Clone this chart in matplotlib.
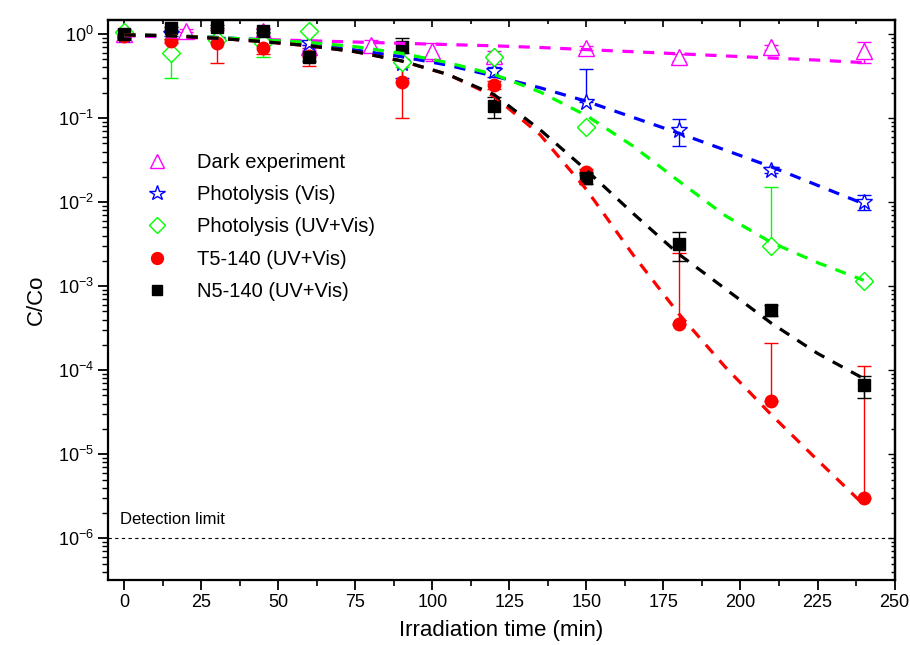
import numpy as np
import matplotlib.pyplot as plt
from matplotlib.lines import Line2D

plt.rcParams['font.family'] = ['Liberation Sans', 'DejaVu Sans']
plt.rcParams['mathtext.fontset'] = 'custom'
plt.rcParams['mathtext.rm'] = 'Liberation Sans'
plt.rcParams['mathtext.it'] = 'Liberation Sans'

# measured points (time in min, C/Co, error)
dark_t = [0, 20, 45, 60, 80, 100, 120, 150, 180, 210, 240]
dark_c = [1.0, 1.1, 1.1, 0.70, 0.74, 0.63, 0.55, 0.68, 0.53, 0.70, 0.63]
dark_e = [0.08, 0.05, 0.08, 0.05, 0.1, 0.15, 0.08, 0.04, 0.05, 0.05, 0.18]

vis_t = [0, 15, 30, 45, 60, 90, 120, 150, 180, 210, 240]
vis_c = [0.97, 1.0, 0.85, 0.80, 0.78, 0.45, 0.36, 0.155, 0.072, 0.024, 0.010]
vis_e = [0.07, 0.06, 0.05, 0.05, 0.04, 0.15, 0.05, 0.23, 0.025, 0.002, 0.002]

uv_t = [0, 15, 30, 45, 60, 90, 120, 150, 210, 240]
uv_c = [1.05, 0.59, 0.85, 0.78, 1.1, 0.46, 0.53, 0.078, 0.0030, 0.00115]
uv_e = [0.1, 0.29, 0.05, 0.25, 0.05, 0.05, 0.05, 0.005, 0.012, 0.0001]

t5_t = [0, 15, 30, 45, 60, 90, 120, 150, 180, 210, 240]
t5_c = [0.95, 0.83, 0.78, 0.68, 0.55, 0.27, 0.25, 0.0228, 3.5e-4, 4.3e-5, 3.0e-6]
t5_e = [0.05, 0.05, 0.33, 0.1, 0.13, 0.17, 0.03, 0.002, 0.00215, 1.7e-4, 1.1e-4]

n5_t = [0, 15, 30, 45, 60, 90, 120, 150, 180, 210, 240]
n5_c = [1.0, 1.18, 1.22, 1.1, 0.53, 0.70, 0.139, 0.0193, 0.0032, 5.2e-4, 6.6e-5]
n5_e = [0.05, 0.05, 0.05, 0.05, 0.05, 0.2, 0.04, 0.003, 0.0012, 8e-5, 1.9e-5]

# fitted curves (log10 C/Co)
fit_t = [0, 15, 30, 45, 60, 75, 90, 105, 120, 135, 150, 165, 180, 195, 210, 225, 240]
fit_dark = [-0.02, -0.035, -0.05, -0.065, -0.08, -0.095, -0.11, -0.125, -0.14, -0.16, -0.185, -0.21, -0.235, -0.26, -0.285, -0.31, -0.34]
fit_vis = [-0.01, -0.02, -0.04, -0.07, -0.12, -0.19, -0.27, -0.37, -0.50, -0.64, -0.80, -0.99, -1.18, -1.38, -1.58, -1.80, -2.02]
fit_uv = [-0.01, -0.02, -0.04, -0.07, -0.10, -0.15, -0.23, -0.34, -0.48, -0.69, -0.97, -1.33, -1.75, -2.16, -2.48, -2.72, -2.93]
fit_t5 = [-0.01, -0.02, -0.05, -0.09, -0.14, -0.21, -0.32, -0.48, -0.74, -1.20, -1.85, -2.62, -3.33, -3.96, -4.53, -5.07, -5.60]
fit_n5 = [-0.01, -0.02, -0.05, -0.09, -0.14, -0.21, -0.32, -0.48, -0.72, -1.14, -1.62, -2.13, -2.62, -3.03, -3.44, -3.80, -4.10]

labels = ['Dark experiment', 'Photolysis (Vis)', 'Photolysis (UV+Vis)',
          'T5-140 (UV+Vis)', 'N5-140 (UV+Vis)']
colors = ['#ff00ff', '#0000ff', '#00ff00', '#ff0000', '#000000']
markers = ['^', '*', 'D', 'o', 's']
msizes = [11, 12, 9, 9, 8]
filled = [False, False, False, True, True]

series = [(dark_t, dark_c, dark_e, fit_dark),
          (vis_t, vis_c, vis_e, fit_vis),
          (uv_t, uv_c, uv_e, fit_uv),
          (t5_t, t5_c, t5_e, fit_t5),
          (n5_t, n5_c, n5_e, fit_n5)]

fig = plt.figure(figsize=(9.1, 6.45), dpi=100)
ax = fig.add_axes([0.119, 0.101, 0.864, 0.868])

handles = []
for (t, c, e, f), col, m, ms, fl, lab in zip(series, colors, markers, msizes, filled, labels):
    c = np.array(c)
    e = np.array(e)
    lower = np.where(e >= c, 0, e)
    fc = col if fl else 'white'
    ax.errorbar(t, c, yerr=[lower, e], fmt=m, color=col, ms=ms, mfc=fc,
                mec=col, mew=1.0, ecolor=col, elinewidth=1, capsize=5,
                capthick=1, zorder=3)
    handles.append(Line2D([], [], ls='none', marker=m, color=col, ms=ms * 0.95,
                          mfc=fc, mec=col, mew=1.0, label=lab))

for (t, c, e, f), col in zip(series, colors):
    ax.plot(fit_t, 10 ** np.array(f), color=col, lw=2.3,
            linestyle=(0, (3.5, 3)), zorder=4)

# detection limit
ax.axhline(1e-6, color='black', lw=0.8, linestyle=(0, (3, 3)), zorder=1)
ax.text(-1.5, 1.35e-6, 'Detection limit', fontsize=12, va='bottom', ha='left')

ax.set_yscale('log')
ax.set_ylim(3.2e-7, 1.47)
ax.set_xlim(-5.2, 250)
ax.set_xticks(np.arange(0, 251, 25))
ax.set_xticks(np.arange(12.5, 250, 25), minor=True)

ax.tick_params(axis='both', which='major', labelsize=13, width=1.3)
ax.tick_params(axis='x', which='major', direction='out', length=7)
ax.tick_params(axis='x', which='minor', direction='out', length=4, width=1.2)
ax.tick_params(axis='y', which='major', direction='out', length=7)
ax.tick_params(axis='y', which='minor', direction='out', length=4, width=1.0)

# inward ticks on the top and right frame
sec_x = ax.secondary_xaxis('top')
sec_x.set_xticks(np.arange(0, 251, 25))
sec_x.set_xticks(np.arange(12.5, 250, 25), minor=True)
sec_x.tick_params(which='both', direction='in', labeltop=False, width=1.2)
sec_x.tick_params(which='major', length=5)
sec_x.tick_params(which='minor', length=3)
sec_y = ax.secondary_yaxis('right')
sec_y.tick_params(which='both', direction='in', labelright=False, width=1.0)
sec_y.tick_params(which='major', length=5)
sec_y.tick_params(which='minor', length=3)
for s in list(ax.spines.values()) + [sec_x.spines['top'], sec_y.spines['right']]:
    s.set_linewidth(1.6)

ax.set_xlabel('Irradiation time (min)', fontsize=16, labelpad=6)
ax.set_ylabel('C/Co', fontsize=16, labelpad=8)

ax.legend(handles=handles, loc='upper left', bbox_to_anchor=(0.02, 0.795),
          frameon=False, fontsize=14.5, handletextpad=1.2, labelspacing=0.66,
          handlelength=1.5)

fig.savefig('out.png', dpi=100)
